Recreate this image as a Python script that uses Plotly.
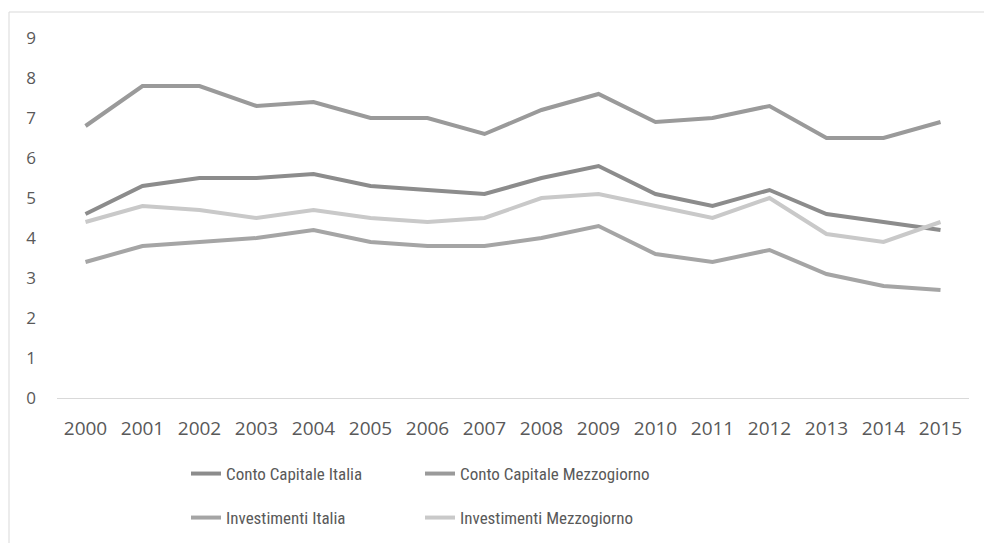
import plotly.graph_objects as go

years = [str(y) for y in range(2000, 2016)]
cc_italia = [4.6, 5.3, 5.5, 5.5, 5.6, 5.3, 5.2, 5.1, 5.5, 5.8, 5.1, 4.8, 5.2, 4.6, 4.4, 4.2]
cc_mezzogiorno = [6.8, 7.8, 7.8, 7.3, 7.4, 7.0, 7.0, 6.6, 7.2, 7.6, 6.9, 7.0, 7.3, 6.5, 6.5, 6.9]
inv_italia = [3.4, 3.8, 3.9, 4.0, 4.2, 3.9, 3.8, 3.8, 4.0, 4.3, 3.6, 3.4, 3.7, 3.1, 2.8, 2.7]
inv_mezzogiorno = [4.4, 4.8, 4.7, 4.5, 4.7, 4.5, 4.4, 4.5, 5.0, 5.1, 4.8, 4.5, 5.0, 4.1, 3.9, 4.4]
y_ticks = list(range(0, 10))

series = [
    ("Conto Capitale Italia", cc_italia, "#8c8c8c", "legend"),
    ("Conto Capitale Mezzogiorno", cc_mezzogiorno, "#9a9a9a", "legend"),
    ("Investimenti Italia", inv_italia, "#a5a5a5", "legend2"),
    ("Investimenti Mezzogiorno", inv_mezzogiorno, "#c9c9c9", "legend2"),
]

fig = go.Figure()
for name, vals, col, leg in series:
    fig.add_trace(go.Scatter(x=years, y=vals, name=name, mode="lines",
                             line=dict(color=col, width=4), legend=leg))

W, H = 984, 543
L, R, T, B = 57, 15, 38, 145
pw, ph = W - L - R, H - T - B

def px_x(p):
    return (p - L) / pw

def px_y(p):
    return (H - B - p) / ph

legend_font = dict(family="Liberation Sans Narrow, Roboto Condensed, Arial Narrow, sans-serif",
                   size=17, color="#595959")

fig.update_layout(
    width=W, height=H,
    margin=dict(l=L, r=R, t=T, b=B, autoexpand=False),
    paper_bgcolor="white", plot_bgcolor="white",
    font=dict(family="Open Sans, sans-serif", color="#595959", size=17),
    xaxis=dict(type="category", range=[-0.5, len(years) - 0.5], automargin=False,
               showgrid=False, showline=True, linecolor="#d9d9d9",
               linewidth=1, ticks="", ticklabelstandoff=13,
               tickfont=dict(size=19, color="#595959")),
    yaxis=dict(range=[0, 9], tickvals=y_ticks, showgrid=False, zeroline=False,
               showline=False, ticks="", ticklabelstandoff=20, automargin=False,
               tickfont=dict(size=17, color="#595959")),
    legend=dict(orientation="h", x=px_x(186), y=px_y(456), xanchor="left", yanchor="top",
                entrywidth=189, entrywidthmode="pixels", font=legend_font,
                bgcolor="rgba(0,0,0,0)", itemwidth=30),
    legend2=dict(orientation="h", x=px_x(186), y=px_y(500), xanchor="left", yanchor="top",
                 entrywidth=189, entrywidthmode="pixels", font=legend_font,
                 bgcolor="rgba(0,0,0,0)", itemwidth=30),
    shapes=[dict(type="rect", xref="paper", yref="paper",
                 x0=px_x(9), x1=px_x(1150), y0=px_y(700), y1=px_y(12),
                 line=dict(color="#d9d9d9", width=1), fillcolor="rgba(0,0,0,0)",
                 layer="below")],
)

fig.write_html("out.html", config={"displayModeBar": False},
               post_script="document.body.style.margin='0';document.body.style.overflow='hidden';")
